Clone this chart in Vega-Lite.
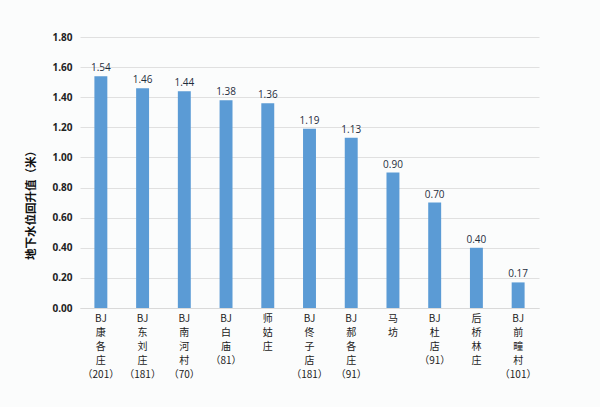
{
  "$schema": "https://vega.github.io/schema/vega-lite/v6.json",
  "width": 459,
  "height": 271,
  "autosize": {"type": "none"},
  "padding": {"left": 80, "top": 37, "right": 61, "bottom": 99},
  "background": "#fbfcfc",
  "data": {"values": [
    {"site": "BJ康各庄（201）", "value": 1.54},
    {"site": "BJ东刘庄（181）", "value": 1.46},
    {"site": "BJ南河村（70）", "value": 1.44},
    {"site": "BJ白庙（81）", "value": 1.38},
    {"site": "师姑庄", "value": 1.36},
    {"site": "BJ佟子店（181）", "value": 1.19},
    {"site": "BJ郝各庄（91）", "value": 1.13},
    {"site": "马坊", "value": 0.90},
    {"site": "BJ杜店（91）", "value": 0.70},
    {"site": "后桥林庄", "value": 0.40},
    {"site": "BJ前疃村（101）", "value": 0.17}
  ]},
  "config": {
    "view": {"stroke": null},
    "font": "Open Sans"
  },
  "encoding": {
    "x": {
      "field": "site", "type": "nominal", "sort": null,
      "axis": {
        "title": null,
        "labelAngle": 0,
        "labelBaseline": "top",
        "labelFontSize": 10,
        "labelLineHeight": 14,
        "labelColor": "#222222",
        "labelPadding": 5,
        "ticks": false,
        "domainColor": "#d9d9d9",
        "labelFont": "Noto Sans CJK SC",
        "labelExpr": "split(replace(replace(replace(datum.label, regexp('([\\u4e00-\\u9fff])', 'g'), '|$1|'), regexp('\\\\|\\\\|', 'g'), '|'), regexp('^\\\\||\\\\|$', 'g'), ''), '|')"
      },
      "scale": {"paddingInner": 0.69, "paddingOuter": 0.345}
    },
    "y": {
      "field": "value", "type": "quantitative",
      "scale": {"domain": [0, 1.8]},
      "axis": {
        "title": "地下水位回升值（米）",
        "titleFont": "Noto Sans CJK SC",
        "titleFontSize": 11.5,
        "titleFontWeight": "bold",
        "titleColor": "#111111",
        "titlePadding": 15,
        "titleY": 165,
        "values": [0, 0.2, 0.4, 0.6, 0.8, 1.0, 1.2, 1.4, 1.6, 1.8],
        "format": ".2f",
        "labelFontSize": 10,
        "labelFontWeight": "bold",
        "labelColor": "#222222",
        "labelPadding": 8,
        "ticks": false,
        "domain": false,
        "gridColor": "#e0e0e0"
      }
    }
  },
  "layer": [
    {"mark": {"type": "bar", "color": "#5b9bd5"}},
    {
      "mark": {"type": "text", "dy": -8, "fontSize": 10, "color": "#1f2d3d"},
      "encoding": {"text": {"field": "value", "type": "quantitative", "format": ".2f"}}
    }
  ]
}
